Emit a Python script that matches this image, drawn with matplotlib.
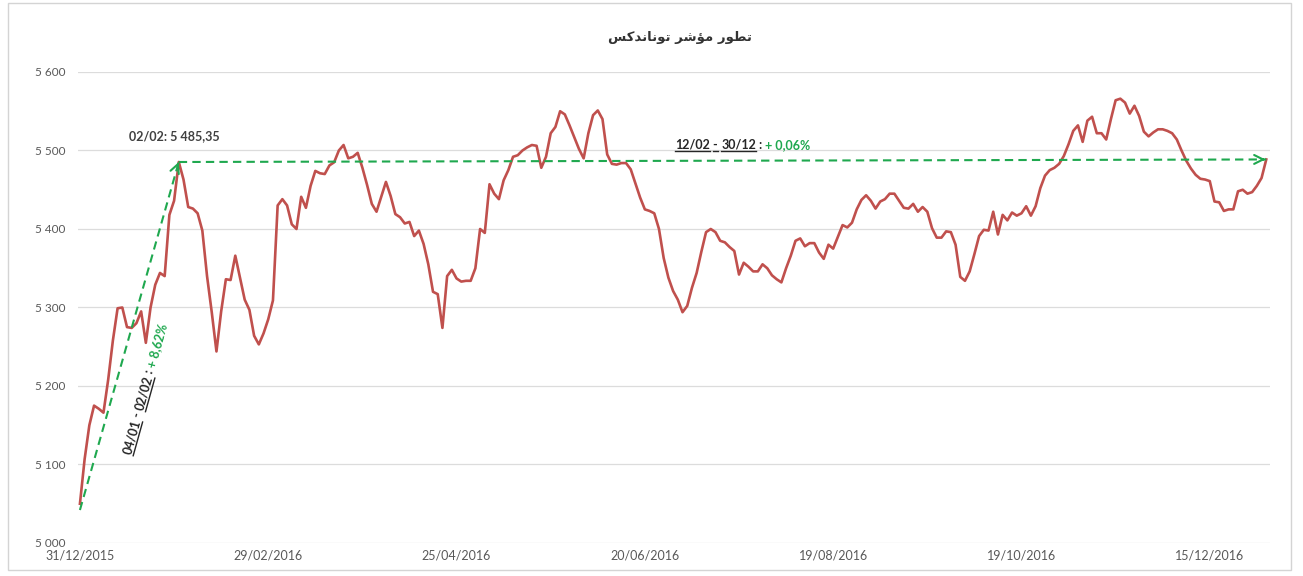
import numpy as np
import matplotlib
matplotlib.use('Agg')
import matplotlib.pyplot as plt
from matplotlib.patches import Rectangle
from matplotlib.lines import Line2D
from matplotlib.transforms import IdentityTransform

plt.rcParams['font.family'] = ['Lato', 'DejaVu Sans']

# Tunindex daily closes, 31/12/2015 .. 30/12/2016
values = [
    5050, 5107, 5150, 5175, 5171, 5166, 5208, 5258, 5299, 5300,
    5275, 5274, 5280, 5295, 5255, 5300, 5329, 5344, 5340, 5418,
    5436, 5485.35, 5463, 5428, 5426, 5420, 5398, 5340, 5294, 5244,
    5295, 5336, 5335, 5366, 5338, 5310, 5297, 5264, 5253, 5267,
    5285, 5309, 5430, 5438, 5430, 5406, 5400, 5441, 5427, 5455,
    5474, 5471, 5470, 5481, 5485, 5500, 5507, 5490, 5492, 5497,
    5478, 5456, 5432, 5422, 5441, 5460, 5442, 5419, 5415, 5407,
    5409, 5391, 5398, 5381, 5355, 5320, 5317, 5274, 5340, 5348,
    5337, 5333, 5334, 5334, 5350, 5400, 5395, 5457, 5445, 5438,
    5462, 5475, 5492, 5494, 5500, 5504, 5507, 5506, 5478, 5492,
    5522, 5530, 5550, 5546, 5532, 5517, 5502, 5490, 5522, 5545,
    5551, 5540, 5495, 5483, 5482, 5484, 5484, 5476, 5458, 5440,
    5425, 5423, 5420, 5400, 5363, 5338, 5321, 5310, 5294, 5302,
    5325, 5344, 5371, 5396, 5400, 5396, 5385, 5383, 5377, 5372,
    5342, 5357, 5352, 5346, 5346, 5355, 5350, 5341, 5336, 5332,
    5350, 5366, 5385, 5388, 5378, 5382, 5382, 5370, 5362, 5380,
    5375, 5390, 5405, 5402, 5408, 5425, 5437, 5443, 5436, 5426,
    5435, 5438, 5445, 5445, 5436, 5427, 5426, 5432, 5422, 5428,
    5422, 5401, 5389, 5389, 5397, 5396, 5380, 5339, 5334, 5346,
    5368, 5391, 5399, 5398, 5422, 5393, 5418, 5411, 5421, 5417,
    5420, 5429, 5417, 5429, 5452, 5468, 5475, 5478, 5483, 5493,
    5508, 5525, 5532, 5511, 5538, 5543, 5522, 5522, 5514, 5540,
    5564, 5566, 5561, 5547, 5557, 5544, 5524, 5518, 5523, 5527,
    5527, 5525, 5522, 5514, 5500, 5487, 5477, 5469, 5464, 5463,
    5461, 5435, 5434, 5423, 5425, 5425, 5448, 5450, 5445, 5447,
    5455, 5465, 5488.6,
]
tick_idx = [0, 40, 80, 120, 160, 200, 240]
tick_labels = ['31/12/2015', '29/02/2016', '25/04/2016', '20/06/2016',
               '19/08/2016', '19/10/2016', '15/12/2016']
y_ticks = [5000, 5100, 5200, 5300, 5400, 5500, 5600]

peak_idx = 21          # 02/02
arrow1_start = 5042    # 04/01 base of the first arrow
peak_label = '02/02: 5 485,35'
# (text, is_green, underlined)
label1 = [('04/01', False, True), (' - ', False, False), ('02/02', False, True),
          (' : ', False, False), ('+ 8,62%', True, False)]
label1_pos = (10.8, 5112)
label2 = [('12/02', False, True), (' - ', False, True), ('30/12', False, True),
          (' : ', False, False), ('+ 0,06%', True, False)]
label2_pos = (126.5, 5502)

# "تطور مؤشر توناندكس" in presentation forms, visual order
title = ('\uFEB2\uFEDB\uFEAA\uFEE7\uFE8E\uFEE7\uFEEE\uFE97 '
         '\uFEAE\uFEB7\uFE86\uFEE3 \uFEAD\uFEEE\uFEC4\uFE97')

red = '#c0504d'
green = '#1fa84f'
txt = '#595959'
dark = '#262626'

x = np.arange(len(values))

fig = plt.figure(figsize=(13.03, 5.76), dpi=100)
fig.patch.set_facecolor('white')
fig.patches.append(Rectangle((0.006, 0.01), 0.985, 0.985, transform=fig.transFigure,
                             fill=False, edgecolor='#d4d4d4', lw=1.0))
ax = fig.add_axes([0.0599, 0.0573, 0.9148, 0.8177])

ax.plot(x, values, color=red, lw=1.9, zorder=3)

ax.set_xlim(-0.4, 252.8)
ax.set_ylim(5000, 5600)
ax.set_yticks(y_ticks)
ax.set_yticklabels([f'{v:,}'.replace(',', ' ') for v in y_ticks])
ax.set_xticks(tick_idx)
ax.set_xticklabels(tick_labels)
ax.tick_params(axis='y', length=0, pad=9, labelsize=8.5, labelcolor=txt)
ax.tick_params(axis='x', length=0, pad=5, labelsize=9, labelcolor=txt)
ax.grid(axis='y', color='#dcdcdc', lw=0.9)
ax.set_axisbelow(True)
for s in ax.spines.values():
    s.set_visible(False)

fig.text(0.522, 0.935, title, ha='center', va='center', fontsize=9.5,
         color='#333333', family='DejaVu Sans', fontweight='bold')

# green dashed arrows
p0 = (0, arrow1_start)
p1 = (peak_idx, values[peak_idx])
p2 = (len(values) - 1, values[-1])
ax.plot([p0[0], p1[0]], [p0[1], p1[1]], ls=(0, (4, 2.5)), color=green, lw=1.5, zorder=4)
ax.plot([p1[0], p2[0]], [p1[1], p2[1]], ls=(0, (4, 2.5)), color=green, lw=1.5, zorder=4)
ax.annotate('', xy=p1, xytext=(p1[0] - 0.4, p1[1] - 6),
            arrowprops=dict(arrowstyle='->', color=green, lw=1.5, mutation_scale=16))
ax.annotate('', xy=(p2[0] + 0.4, p2[1]), xytext=(p2[0] - 1.5, p2[1]),
            arrowprops=dict(arrowstyle='->', color=green, lw=1.5, mutation_scale=16))

ax.annotate(peak_label, xy=p1, xytext=(-3, 14), textcoords='offset points',
            ha='center', va='bottom', fontsize=9, fontweight='bold', color='#404040')

fig.canvas.draw()
r = fig.canvas.get_renderer()


def write_pieces(pos, pieces, ang, size=9):
    """write coloured / underlined pieces one after another along a direction"""
    px, py = ax.transData.transform(pos)
    c, s = np.cos(np.radians(ang)), np.sin(np.radians(ang))
    off = 0.0
    for text, is_green, under in pieces:
        t = fig.text(0, 0, text, fontsize=size, fontweight='bold',
                     color=green if is_green else dark, ha='left', va='baseline')
        w = t.get_window_extent(r).width
        t.set_transform(IdentityTransform())
        t.set_position((px + off * c, py + off * s))
        t.set_rotation(ang)
        t.set_rotation_mode('anchor')
        if under:
            # a short line just below the baseline
            dx, dy = 2.5 * s, -2.5 * c
            ws = w if text.strip() == text else w * 0.5
            a0 = off + (w - ws) / 2
            fig.add_artist(Line2D([px + a0 * c + dx, px + (a0 + ws) * c + dx],
                                  [py + a0 * s + dy, py + (a0 + ws) * s + dy],
                                  color=dark, lw=1.0, transform=IdentityTransform()))
        off += w


write_pieces(label1_pos, label1, 74.4)
write_pieces(label2_pos, label2, 0)

fig.savefig('out.png', dpi=100)
